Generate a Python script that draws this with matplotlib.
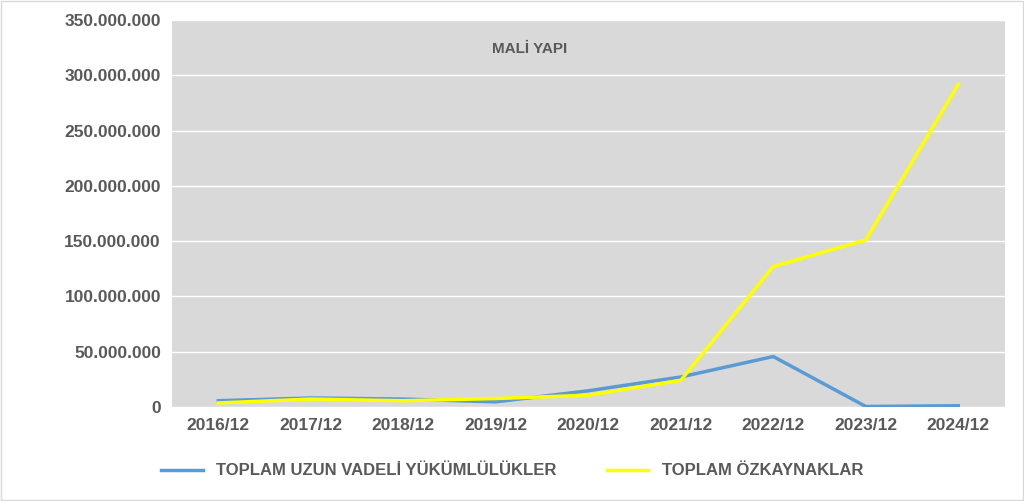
import matplotlib.pyplot as plt
from matplotlib.ticker import FuncFormatter

plt.rcParams['font.family'] = ['Liberation Sans', 'DejaVu Sans']

years = ['2016/12', '2017/12', '2018/12', '2019/12', '2020/12', '2021/12', '2022/12', '2023/12', '2024/12']
uzun_vadeli = [5.5e6, 8e6, 7e6, 4.5e6, 14.5e6, 27e6, 45.5e6, 0.3e6, 1e6]
ozkaynaklar = [3.5e6, 7e6, 5.5e6, 7.5e6, 10.5e6, 24e6, 127e6, 151e6, 292e6]

fig = plt.figure(figsize=(10.24, 5.01), dpi=100)
ax = fig.add_axes([0.168, 0.188, 0.813, 0.772])
ax.set_facecolor('#d9d9d9')
x = range(len(years))
ax.plot(x, uzun_vadeli, color='#5b9bd5', lw=2.5, label='TOPLAM UZUN VADELİ YÜKÜMLÜLÜKLER')
ax.plot(x, ozkaynaklar, color='#ffff00', lw=2.5, label='TOPLAM ÖZKAYNAKLAR')

ax.set_xlim(-0.5, len(years) - 0.5)
ax.set_ylim(0, 350e6)
ax.set_yticks(range(0, 350000001, 50000000))
ax.yaxis.set_major_formatter(FuncFormatter(lambda v, p: f'{int(v):,}'.replace(',', '.')))
ax.set_xticks(list(x))
ax.set_xticklabels(years)
ax.grid(axis='y', color='white', lw=1)
ax.set_axisbelow(True)
for s in ax.spines.values():
    s.set_visible(False)
ax.tick_params(length=0, labelsize=12.5, labelcolor='#595959', pad=8)
for t in ax.get_xticklabels() + ax.get_yticklabels():
    t.set_fontweight('bold')

ax.text(0.43, 0.925, 'MALİ YAPI', transform=ax.transAxes, ha='center', va='center',
        fontsize=11, fontweight='bold', color='#595959')

leg = fig.legend(loc='center', bbox_to_anchor=(0.5, 0.06), ncol=2, frameon=False,
                 fontsize=12, columnspacing=3, handlelength=2.5)
for t in leg.get_texts():
    t.set_color('#595959')
    t.set_fontweight('bold')

fig.patches.append(plt.Rectangle((0.001, 0.002), 0.998, 0.996, transform=fig.transFigure,
                                 fill=False, edgecolor='#d9d9d9', lw=1))
fig.savefig('out.png', dpi=100)
